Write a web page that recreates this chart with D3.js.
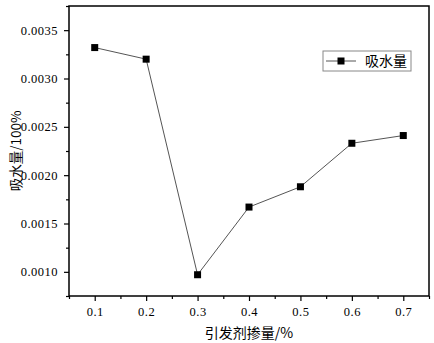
<!DOCTYPE html>
<html>
<head>
<meta charset="utf-8">
<script src="https://cdn.jsdelivr.net/npm/d3@7"></script>
<style>
  body { margin: 0; background: #fff; }
  svg text { fill: #000; }
</style>
</head>
<body>
<div id="chart"></div>
<script>
const DOSAGE = [0.1, 0.2, 0.3, 0.4, 0.5, 0.6, 0.7];
const ABSORB = [0.00332, 0.00320, 0.00097, 0.00167, 0.00188, 0.00233, 0.00241];
const X_TICKS = [0.1, 0.2, 0.3, 0.4, 0.5, 0.6, 0.7];
const Y_TICKS = [0.0010, 0.0015, 0.0020, 0.0025, 0.0030, 0.0035];
const SERIES_NAME = "吸水量";
const X_TITLE = "引发剂掺量/%";
const Y_TITLE = "吸水量/100%";

const width = 434, height = 343;
const margin = { top: 6, right: 5, bottom: 47, left: 69 };
const innerW = width - margin.left - margin.right;
const innerH = height - margin.top - margin.bottom;

const svg = d3.select("#chart").append("svg")
    .attr("width", width)
    .attr("height", height);

const x = d3.scaleLinear().domain([0.05, 0.75]).range([0, innerW]);
const y = d3.scaleLinear().domain([0.00075, 0.00375]).range([innerH, 0]);

const g = svg.append("g")
    .attr("transform", `translate(${margin.left},${margin.top})`);

const numFont = "'Liberation Serif', 'DejaVu Serif', serif";
const cjkFont = "'Noto Sans CJK SC', sans-serif";

// minor ticks
const xMinor = d3.range(0.05, 0.76, 0.1).map(d => +d.toFixed(2));
const yMinor = d3.range(0.00075, 0.00376, 0.0005).map(d => +d.toFixed(5));

g.append("g")
    .attr("transform", `translate(0,${innerH})`)
    .call(d3.axisBottom(x).tickValues(xMinor).tickSize(3).tickFormat(""))
    .call(s => s.select(".domain").remove())
    .selectAll("line").attr("stroke-width", 1.2);

g.append("g")
    .call(d3.axisLeft(y).tickValues(yMinor).tickSize(3).tickFormat(""))
    .call(s => s.select(".domain").remove())
    .selectAll("line").attr("stroke-width", 1.2);

// major ticks
const xAxis = g.append("g")
    .attr("transform", `translate(0,${innerH})`)
    .call(d3.axisBottom(x).tickValues(X_TICKS).tickSize(5).tickPadding(6)
        .tickFormat(d3.format(".1f")));
xAxis.select(".domain").remove();
xAxis.selectAll("line").attr("stroke-width", 1.2);
xAxis.selectAll("text")
    .style("font-family", numFont)
    .style("font-size", "12.5px")
    .attr("letter-spacing", "0.5px");

const yAxis = g.append("g")
    .call(d3.axisLeft(y).tickValues(Y_TICKS).tickSize(5).tickPadding(6)
        .tickFormat(d3.format(".4f")));
yAxis.select(".domain").remove();
yAxis.selectAll("line").attr("stroke-width", 1.2);
yAxis.selectAll("text")
    .style("font-family", numFont)
    .style("font-size", "12.5px")
    .attr("letter-spacing", "0.5px");

// frame
g.append("rect")
    .attr("width", innerW)
    .attr("height", innerH)
    .attr("fill", "none")
    .attr("stroke", "#000")
    .attr("stroke-width", 1.5);

// line + markers
const pts = DOSAGE.map((d, i) => ({ x: d, y: ABSORB[i] }));

g.append("path")
    .datum(pts)
    .attr("fill", "none")
    .attr("stroke", "#555")
    .attr("stroke-width", 1)
    .attr("d", d3.line().x(d => x(d.x)).y(d => y(d.y)));

const ms = 7;
g.selectAll("rect.pt")
    .data(pts)
    .enter().append("rect")
    .attr("class", "pt")
    .attr("x", d => x(d.x) - ms / 2)
    .attr("y", d => y(d.y) - ms / 2)
    .attr("width", ms)
    .attr("height", ms)
    .attr("fill", "#000");

// legend
const lg = svg.append("g").attr("transform", "translate(323,51)");
lg.append("rect")
    .attr("width", 88)
    .attr("height", 20)
    .attr("fill", "#fff")
    .attr("stroke", "#888")
    .attr("stroke-width", 1);
lg.append("line")
    .attr("x1", 3).attr("x2", 33)
    .attr("y1", 10).attr("y2", 10)
    .attr("stroke", "#555");
lg.append("rect")
    .attr("x", 18 - 3.5).attr("y", 10 - 3.5)
    .attr("width", 7).attr("height", 7)
    .attr("fill", "#000");
lg.append("text")
    .attr("x", 42)
    .attr("y", 15)
    .style("font-family", cjkFont)
    .style("font-size", "14px")
    .text(SERIES_NAME);

// axis titles
svg.append("text")
    .attr("x", margin.left + innerW / 2)
    .attr("y", 338)
    .attr("text-anchor", "middle")
    .style("font-family", cjkFont)
    .style("font-size", "14px")
    .text(X_TITLE);

svg.append("text")
    .attr("transform", `translate(21,${margin.top + innerH / 2}) rotate(-90)`)
    .attr("text-anchor", "middle")
    .style("font-family", cjkFont)
    .style("font-size", "13.5px")
    .text(Y_TITLE);
</script>
</body>
</html>
